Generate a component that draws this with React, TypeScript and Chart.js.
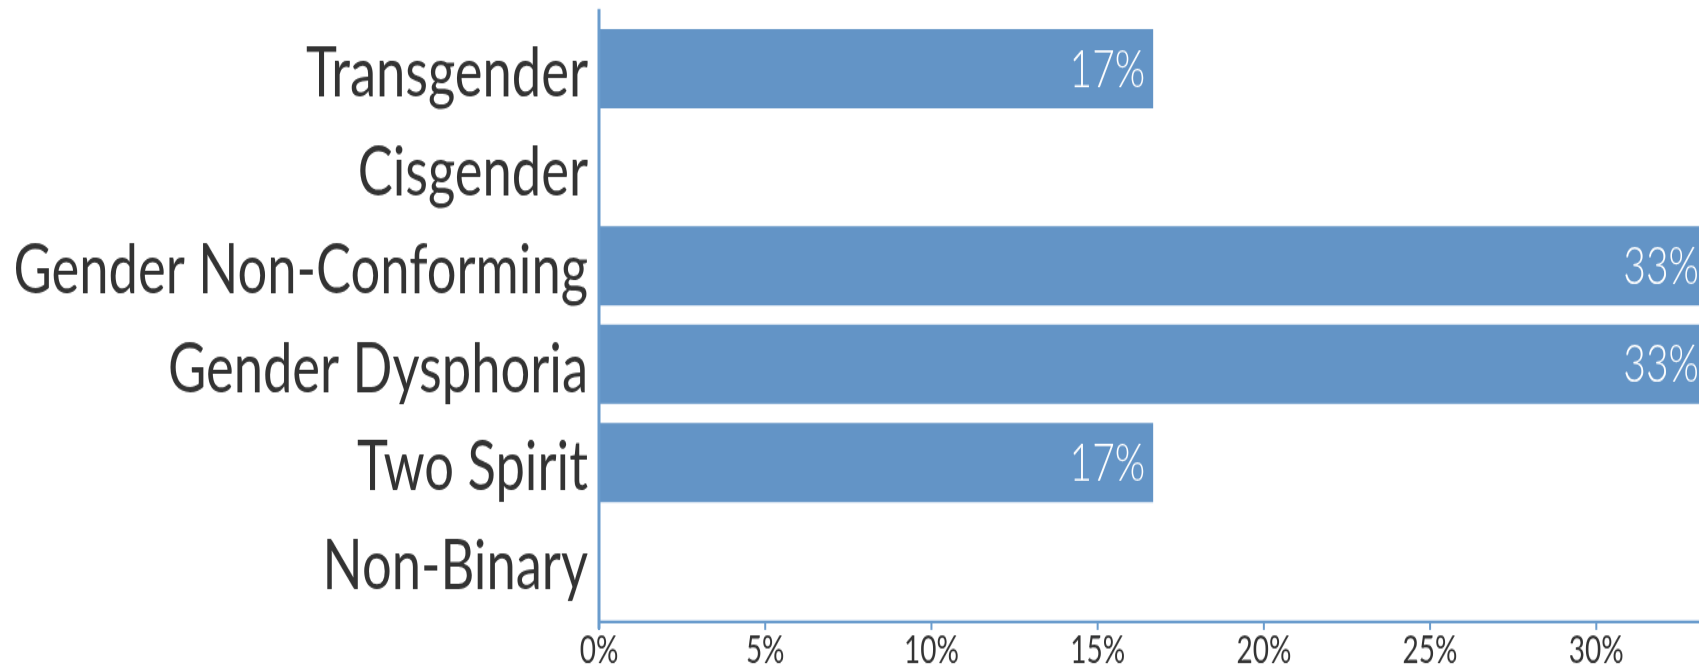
import React, { useEffect, useRef } from 'react';
import { Chart, registerables } from 'chart.js';

Chart.register(...registerables);

// ---- data ----
const categories = [
  'Transgender',
  'Cisgender',
  'Gender Non-Conforming',
  'Gender Dysphoria',
  'Two Spirit',
  'Non-Binary',
];
const percentages = [16.67, 0, 33.33, 33.33, 16.67, 0];
const tickStep = 5;

// ---- styles ----
const BAR_COLOR = '#6394c6';
const AXIS_COLOR = '#6a9ccd';
const TEXT_COLOR = '#333333';
const FONT = 'Lato, "Open Sans", sans-serif';

// drawing buffer vs. display size (reference is vertically stretched)
const BUF_W = 1712;
const BUF_H = 530;
const CSS_H = 700;

export default function App() {
  const ref = useRef<HTMLCanvasElement>(null);

  useEffect(() => {
    if (!ref.current) return;

    const axisPlugin = {
      id: 'axisLines',
      afterDatasetsDraw(chart: any) {
        const { ctx, chartArea, scales } = chart;
        const xs = scales.x;
        ctx.save();
        ctx.strokeStyle = AXIS_COLOR;
        // vertical axis line
        ctx.lineWidth = 3;
        ctx.beginPath();
        ctx.moveTo(chartArea.left, chartArea.top - 8);
        ctx.lineTo(chartArea.left, chartArea.bottom + 14);
        ctx.stroke();
        // horizontal axis line
        const ay = chartArea.bottom + 8.7;
        ctx.lineWidth = 2.3;
        ctx.beginPath();
        ctx.moveTo(chartArea.left, ay);
        ctx.lineTo(chart.width, ay);
        ctx.stroke();
        // tick marks
        ctx.lineWidth = 2;
        xs.ticks.forEach((t: any) => {
          const px = xs.getPixelForValue(t.value);
          ctx.beginPath();
          ctx.moveTo(px, ay);
          ctx.lineTo(px, ay + 6);
          ctx.stroke();
        });
        ctx.restore();
      },
    };

    const labelPlugin = {
      id: 'barLabels',
      afterDatasetsDraw(chart: any) {
        const { ctx } = chart;
        const meta = chart.getDatasetMeta(0);
        ctx.save();
        ctx.font = `300 39px ${FONT}`;
        ctx.fillStyle = '#ffffff';
        ctx.textAlign = 'right';
        ctx.textBaseline = 'middle';
        meta.data.forEach((el: any, i: number) => {
          const v = percentages[i];
          if (!v) return;
          ctx.fillText(`${Math.round(v)}%`, el.x - 8, el.y + 1);
        });
        ctx.restore();
      },
    };

    const chart = new Chart(ref.current, {
      type: 'bar',
      data: {
        labels: categories,
        datasets: [
          {
            data: percentages,
            backgroundColor: BAR_COLOR,
            borderWidth: 0,
            barPercentage: 0.805,
            categoryPercentage: 1,
          },
        ],
      },
      options: {
        indexAxis: 'y',
        responsive: false,
        devicePixelRatio: 1,
        animation: false,
        layout: { padding: { top: 14.76, right: 5, left: 0, bottom: 0 } },
        plugins: {
          legend: { display: false },
          tooltip: { enabled: false },
          title: { display: false },
        },
        scales: {
          x: {
            type: 'linear',
            min: 0,
            max: Math.max(...percentages),
            grid: { display: false },
            border: { display: false },
            afterBuildTicks: (scale: any) => {
              const ticks: any[] = [];
              for (let v = 0; v <= scale.max + 1e-9; v += tickStep) ticks.push({ value: v });
              scale.ticks = ticks;
            },
            afterFit: (scale: any) => {
              scale.height = 67.8;
              scale.paddingLeft = 0;
              scale.paddingRight = 0;
            },
            ticks: {
              padding: 6,
              color: TEXT_COLOR,
              font: { family: FONT, size: 28 },
              maxRotation: 0,
              autoSkip: false,
              callback: (v: any) => `${v}%`,
            },
          },
          y: {
            type: 'category',
            grid: { display: false },
            border: { display: false },
            afterFit: (scale: any) => {
              scale.width = 599;
              scale.paddingTop = 0;
              scale.paddingBottom = 0;
            },
            ticks: {
              padding: 3,
              labelOffset: 4,
              color: TEXT_COLOR,
              autoSkip: false,
              font: { family: FONT, size: 52.5 },
            },
          },
        },
      },
      plugins: [axisPlugin, labelPlugin],
    });

    return () => chart.destroy();
  }, []);

  return (
    <div
      style={{
        position: 'fixed',
        left: 0,
        top: 0,
        width: '100vw',
        height: '100vh',
        overflow: 'hidden',
        background: '#ffffff',
      }}
    >
      <canvas
        ref={ref}
        width={BUF_W}
        height={BUF_H}
        style={{ width: `${BUF_W}px`, height: `${CSS_H}px`, display: 'block' }}
      />
    </div>
  );
}
